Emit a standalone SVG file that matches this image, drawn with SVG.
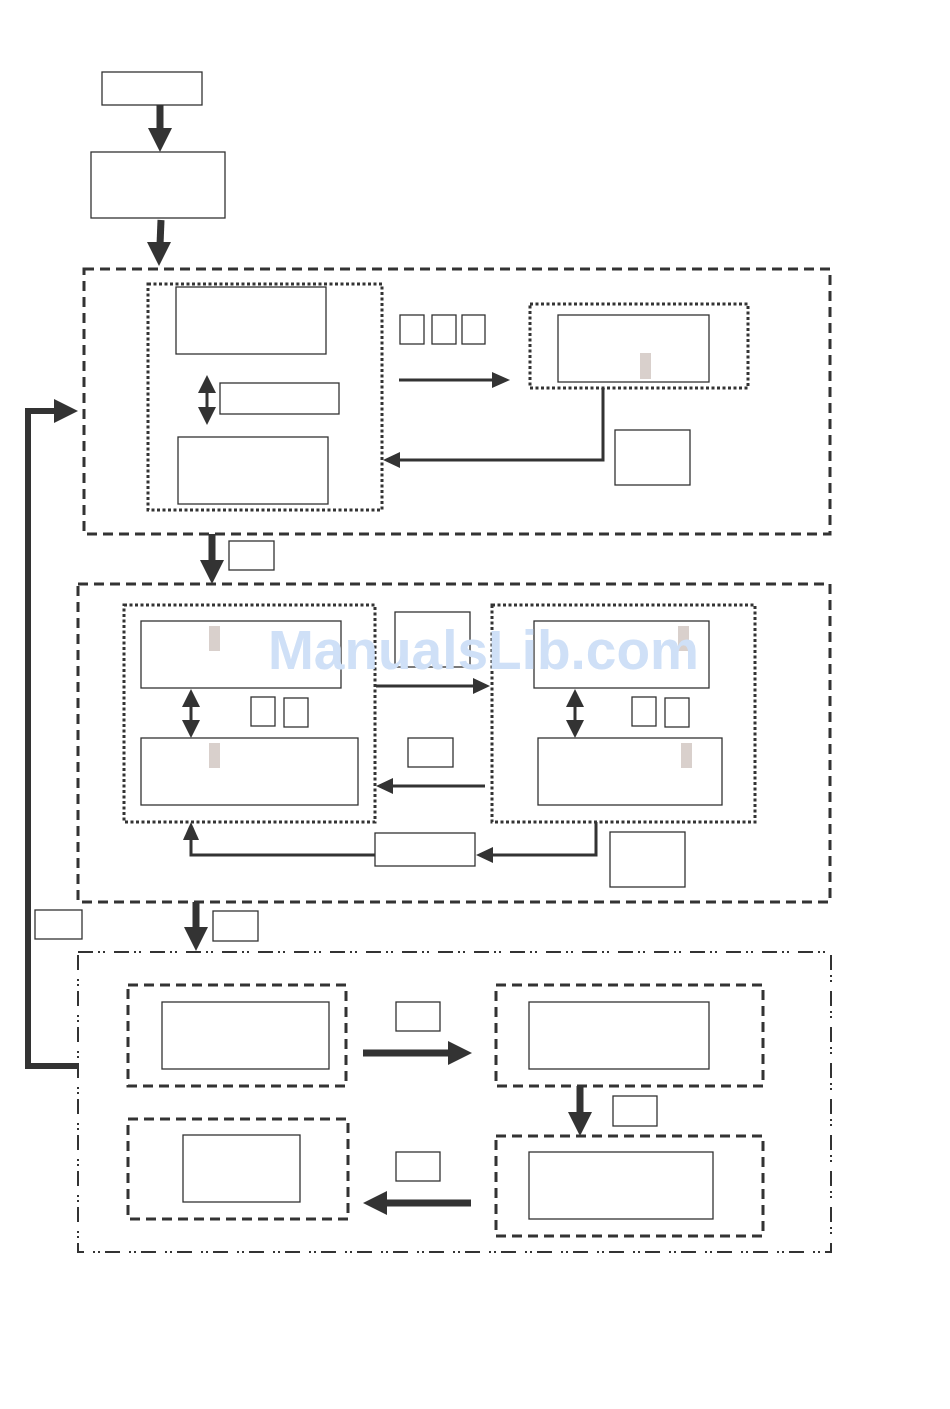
<svg xmlns="http://www.w3.org/2000/svg" width="950" height="1409" viewBox="0 0 950 1409">
<defs>
<style>
.b{fill:#fff;stroke:#333;stroke-width:1.3}
.dash{fill:none;stroke:#333;stroke-width:3;stroke-dasharray:10 6}
.dot{fill:none;stroke:#333;stroke-width:3;stroke-dasharray:3 2.5}
.dd{fill:none;stroke:#333;stroke-width:2;stroke-dasharray:15 5 2 3 2 9}
.g{fill:#d9d0cc}
.thin{fill:none;stroke:#333;stroke-width:3}
.thick{fill:none;stroke:#333;stroke-width:7}
.fb{fill:none;stroke:#333;stroke-width:6}
.h{fill:#333}
.wm{font-family:"Liberation Sans",Arial,sans-serif;font-weight:bold;font-size:55px;fill:#cfe0f7}
</style>
</defs>
<rect width="950" height="1409" fill="#fff"/>

<g id="groups">
<rect class="dash" x="84" y="269" width="746" height="265"/>
<rect class="dot" x="148" y="284" width="234" height="226"/>
<rect class="dot" x="530" y="304" width="218" height="84"/>
<rect class="dash" x="78" y="584" width="752" height="318"/>
<rect class="dot" x="124" y="605" width="251" height="217"/>
<rect class="dot" x="492" y="605" width="263" height="217"/>
<rect class="dd" x="78" y="952" width="753" height="300"/>
<rect class="dash" x="128" y="985" width="218" height="101"/>
<rect class="dash" x="128" y="1119" width="220" height="100"/>
<rect class="dash" x="496" y="985" width="267" height="101"/>
<rect class="dash" x="496" y="1136" width="267" height="100"/>
</g>

<g id="n-start"><rect class="b" x="102" y="72" width="100" height="33"/></g>
<g id="n-second"><rect class="b" x="91" y="152" width="134" height="66"/></g>

<g id="n-a1"><rect class="b" x="176" y="287" width="150" height="67"/></g>
<g id="n-a2"><rect class="b" x="220" y="383" width="119" height="31"/></g>
<g id="n-a3"><rect class="b" x="178" y="437" width="150" height="67"/></g>
<g id="n-s1"><rect class="b" x="400" y="315" width="24" height="29"/></g>
<g id="n-s2"><rect class="b" x="432" y="315" width="24" height="29"/></g>
<g id="n-s3"><rect class="b" x="462" y="315" width="23" height="29"/></g>
<g id="n-b1"><rect class="b" x="558" y="315" width="151" height="67"/><rect class="g" x="640" y="353" width="11" height="26"/></g>
<g id="n-b2"><rect class="b" x="615" y="430" width="75" height="55"/></g>
<g id="n-l1"><rect class="b" x="229" y="541" width="45" height="29"/></g>

<g id="n-c1"><rect class="b" x="141" y="621" width="200" height="67"/><rect class="g" x="209" y="626" width="11" height="25"/></g>
<g id="n-c2"><rect class="b" x="141" y="738" width="217" height="67"/><rect class="g" x="209" y="743" width="11" height="25"/></g>
<g id="n-cs1"><rect class="b" x="251" y="697" width="24" height="29"/></g>
<g id="n-cs2"><rect class="b" x="284" y="698" width="24" height="29"/></g>
<g id="n-m1"><rect class="b" x="395" y="612" width="75" height="55"/></g>
<g id="n-m2"><rect class="b" x="408" y="738" width="45" height="29"/></g>
<g id="n-d1"><rect class="b" x="534" y="621" width="175" height="67"/><rect class="g" x="678" y="626" width="11" height="25"/></g>
<g id="n-d2"><rect class="b" x="538" y="738" width="184" height="67"/><rect class="g" x="681" y="743" width="11" height="25"/></g>
<g id="n-ds1"><rect class="b" x="632" y="697" width="24" height="29"/></g>
<g id="n-ds2"><rect class="b" x="665" y="698" width="24" height="29"/></g>
<g id="n-m3"><rect class="b" x="375" y="833" width="100" height="33"/></g>
<g id="n-d3"><rect class="b" x="610" y="832" width="75" height="55"/></g>
<g id="n-l2"><rect class="b" x="213" y="911" width="45" height="30"/></g>
<g id="n-l3"><rect class="b" x="35" y="910" width="47" height="29"/></g>

<g id="n-e1"><rect class="b" x="162" y="1002" width="167" height="67"/></g>
<g id="n-e2"><rect class="b" x="183" y="1135" width="117" height="67"/></g>
<g id="n-e3"><rect class="b" x="529" y="1002" width="180" height="67"/></g>
<g id="n-e4"><rect class="b" x="529" y="1152" width="184" height="67"/></g>
<g id="n-el1"><rect class="b" x="396" y="1002" width="44" height="29"/></g>
<g id="n-el2"><rect class="b" x="613" y="1096" width="44" height="30"/></g>
<g id="n-el3"><rect class="b" x="396" y="1152" width="44" height="29"/></g>

<g id="connectors">
<line class="thick" x1="160" y1="105" x2="160" y2="130"/>
<polygon class="h" points="148,128 172,128 160,152"/>
<line class="thick" x1="161" y1="220" x2="160" y2="245"/>
<polygon class="h" points="147,242 171,242 159,266"/>

<line class="thin" x1="207" y1="390" x2="207" y2="410"/>
<polygon class="h" points="207,375 198,393 216,393"/>
<polygon class="h" points="207,425 198,407 216,407"/>

<line class="thin" x1="399" y1="380" x2="494" y2="380"/>
<polygon class="h" points="510,380 492,372 492,388"/>

<polyline class="thin" points="603,388 603,460 398,460"/>
<polygon class="h" points="383,460 400,452 400,468"/>

<line class="thick" x1="212" y1="534" x2="212" y2="562"/>
<polygon class="h" points="200,560 224,560 212,584"/>

<line class="thin" x1="191" y1="704" x2="191" y2="724"/>
<polygon class="h" points="191,689 182,707 200,707"/>
<polygon class="h" points="191,738 182,720 200,720"/>

<line class="thin" x1="376" y1="686" x2="475" y2="686"/>
<polygon class="h" points="490,686 473,678 473,694"/>
<line class="thin" x1="485" y1="786" x2="391" y2="786"/>
<polygon class="h" points="376,786 393,778 393,794"/>

<line class="thin" x1="575" y1="704" x2="575" y2="724"/>
<polygon class="h" points="575,689 566,707 584,707"/>
<polygon class="h" points="575,738 566,720 584,720"/>

<polyline class="thin" points="596,822 596,855 491,855"/>
<polygon class="h" points="476,855 493,847 493,863"/>
<polyline class="thin" points="375,855 191,855 191,838"/>
<polygon class="h" points="191,822 183,840 199,840"/>

<line class="thick" x1="196" y1="902" x2="196" y2="930"/>
<polygon class="h" points="184,927 208,927 196,951"/>

<polyline class="fb" points="78,1066 28,1066 28,411 58,411"/>
<polygon class="h" points="78,411 54,399 54,423"/>

<line class="thick" x1="363" y1="1053" x2="450" y2="1053"/>
<polygon class="h" points="472,1053 448,1041 448,1065"/>
<line class="thick" x1="580" y1="1086" x2="580" y2="1114"/>
<polygon class="h" points="568,1112 592,1112 580,1136"/>
<line class="thick" x1="471" y1="1203" x2="385" y2="1203"/>
<polygon class="h" points="363,1203 387,1191 387,1215"/>
</g>

<text class="wm" x="268" y="669">ManualsLib.com</text>
</svg>
